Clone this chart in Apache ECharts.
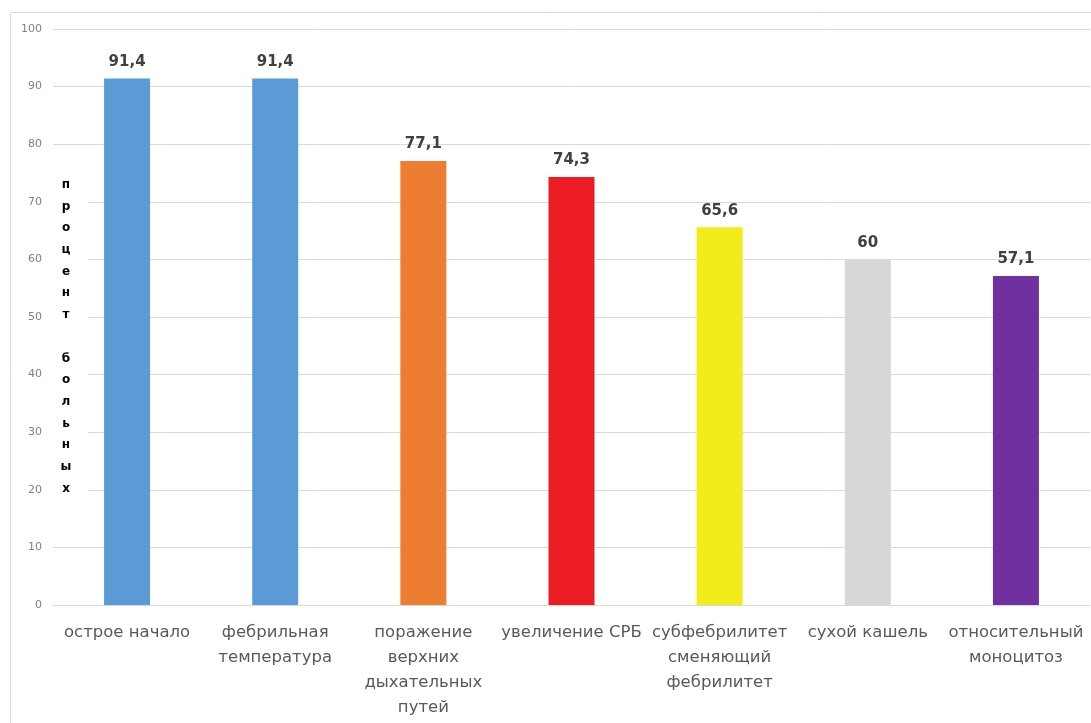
<!DOCTYPE html>
<html>
<head>
<meta charset="utf-8">
<script src="https://cdn.jsdelivr.net/npm/echarts@6/dist/echarts.min.js"></script>
<style>
html,body{margin:0;padding:0;background:#fff;}
#chart{width:1091px;height:723px;}
</style>
</head>
<body>
<div id="chart"></div>
<script>
var categories = [
  'острое начало',
  'фебрильная\nтемпература',
  'поражение\nверхних\nдыхательных\nпутей',
  'увеличение СРБ',
  'субфебрилитет\nсменяющий\nфебрилитет',
  'сухой кашель',
  'относительный\nмоноцитоз'
];
var values = [91.4, 91.4, 77.1, 74.3, 65.6, 60, 57.1];
var barColors = ['#5B9BD5', '#5B9BD5', '#ED7D31', '#EC1C24', '#F2EC1A', '#D6D7D9', '#70309F'];
var yTicks = [0, 10, 20, 30, 40, 50, 60, 70, 80, 90, 100];
var yTitle = 'процент больных';

var chart = echarts.init(document.getElementById('chart'));
var font = '"DejaVu Sans", "Noto Sans", sans-serif';

chart.setOption({
  animation: false,
  backgroundColor: '#ffffff',
  grid: { left: 53, right: 1, top: 29, bottom: 118 },
  xAxis: {
    type: 'category',
    data: categories,
    axisLine: { show: true, lineStyle: { color: '#d9d9d9', width: 1 } },
    axisTick: { show: false },
    axisLabel: {
      interval: 0,
      color: '#595959',
      fontFamily: font,
      fontSize: 16.5,
      lineHeight: 25,
      margin: 15,
      align: 'center'
    }
  },
  yAxis: {
    type: 'value',
    min: yTicks[0],
    max: yTicks[yTicks.length - 1],
    interval: 10,
    axisLine: { show: false },
    axisTick: { show: false },
    splitLine: { lineStyle: { color: '#d9d9d9', width: 1 } },
    axisLabel: {
      color: '#808080',
      fontFamily: font,
      fontSize: 11,
      margin: 11
    }
  },
  graphic: [
    {
      type: 'rect',
      z: -10,
      silent: true,
      shape: { x: 10.5, y: 12.5, width: 1200, height: 900 },
      style: { fill: 'none', stroke: '#d9d9d9', lineWidth: 1 }
    },
    {
      type: 'rect',
      z: 10,
      silent: true,
      shape: { x: 53, y: 165, width: 35, height: 370 },
      style: { fill: '#ffffff' }
    },
    {
      type: 'text',
      z: 11,
      silent: true,
      x: 66,
      y: 174,
      style: {
        text: yTitle.split('').join('\n'),
        fill: '#000000',
        font: 'bold 12px ' + font,
        lineHeight: 21.7,
        align: 'center',
        verticalAlign: 'top'
      }
    }
  ],
  series: [{
    type: 'bar',
    data: values.map(function (v, i) {
      return { value: v, itemStyle: { color: barColors[i] } };
    }),
    barWidth: 46,
    label: {
      show: true,
      position: 'top',
      distance: 9,
      color: '#404040',
      fontFamily: font,
      fontWeight: 'bold',
      fontSize: 15,
      formatter: function (p) { return String(p.value).replace('.', ','); }
    }
  }]
});
</script>
</body>
</html>
